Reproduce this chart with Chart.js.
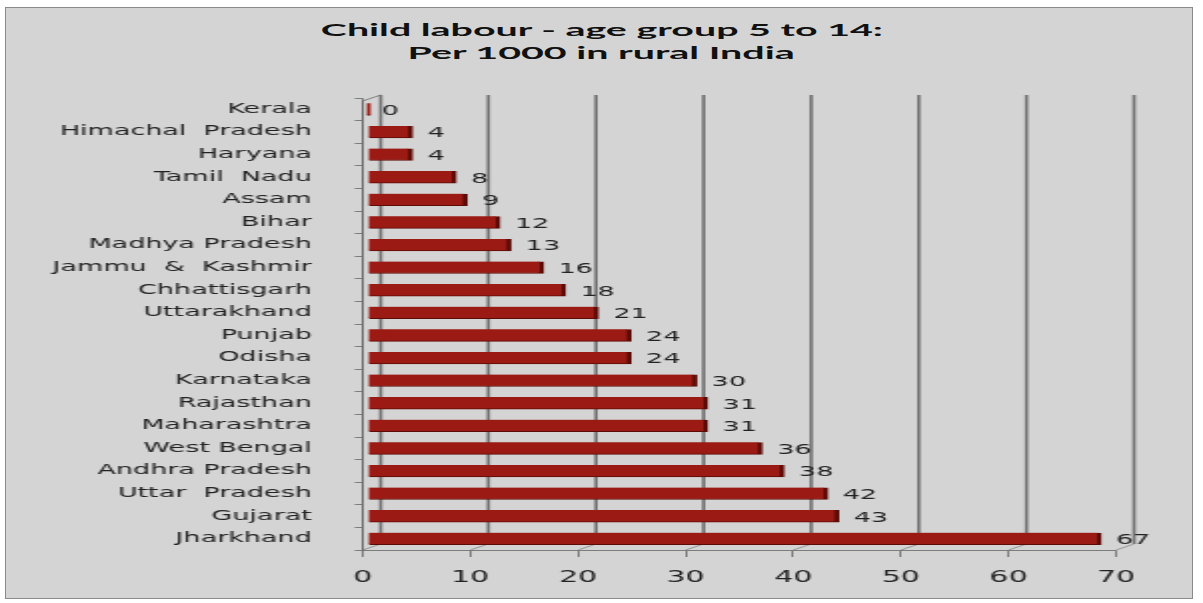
<!DOCTYPE html>
<html>
<head>
<meta charset="utf-8">
<script src="https://cdn.jsdelivr.net/npm/chart.js@4.4.1/dist/chart.umd.min.js"></script>
<style>
  html, body { margin: 0; padding: 0; background: #fff; overflow: hidden; }
  #frame {
    position: absolute; left: 5px; top: 7px; width: 1186px; height: 590px;
    background: #d4d4d4; border: 1px solid #8a8a8a;
  }
  #title {
    position: absolute; left: 0; width: 1203px; top: 18px; text-align: center;
    font-family: Lato, "Liberation Sans", sans-serif; font-weight: bold;
    font-size: 17.5px; line-height: 23px; color: #111;
  }
  #title span { display: inline-block; transform: scaleX(2.25); }
  /* the original picture is stretched sideways, so the canvas is too */
  #wrap {
    position: absolute; left: 0; top: 0; width: 602px; height: 603px;
    transform: scaleX(1.99834); transform-origin: 0 0;
  }
</style>
</head>
<body>
<div id="frame"></div>
<div id="title"><span>Child labour - age group 5 to 14:</span><br><span>Per 1000 in rural India</span></div>
<div id="wrap"><canvas id="labourChart" width="602" height="603"></canvas></div>
<script>
// data
const states = ['Kerala', 'Himachal  Pradesh', 'Haryana', 'Tamil  Nadu', 'Assam', 'Bihar',
  'Madhya Pradesh', 'Jammu  &  Kashmir', 'Chhattisgarh', 'Uttarakhand', 'Punjab', 'Odisha',
  'Karnataka', 'Rajasthan', 'Maharashtra', 'West Bengal', 'Andhra Pradesh', 'Uttar  Pradesh',
  'Gujarat', 'Jharkhand'];
const perThousand = [0, 4, 4, 8, 9, 12, 13, 16, 18, 21, 24, 24, 30, 31, 31, 36, 38, 42, 43, 67];
const xTicks = [0, 10, 20, 30, 40, 50, 60, 70];

const depthX = 9;
const depthY = 6;

// back-wall gridlines, shifted like the 3D original
const backGrid = {
  id: 'backGrid',
  beforeDatasetsDraw(chart) {
    const ctx = chart.ctx;
    const area = chart.chartArea;
    const xs = chart.scales.x;
    ctx.save();
    xTicks.forEach(v => {
      const px = xs.getPixelForValue(v);
      ctx.strokeStyle = '#6f6f6f';
      ctx.lineWidth = 1.6;
      ctx.beginPath();
      ctx.moveTo(px + depthX, area.top - 3);
      ctx.lineTo(px + depthX, area.bottom - depthY);
      ctx.stroke();
      ctx.lineWidth = 0.7;
      ctx.strokeStyle = '#777';
      ctx.beginPath();
      ctx.moveTo(px + depthX, area.bottom - depthY);
      ctx.lineTo(px, area.bottom);
      ctx.stroke();
    });
    // side wall at the left
    const x0 = xs.getPixelForValue(0);
    ctx.strokeStyle = '#666';
    ctx.lineWidth = 0.8;
    ctx.beginPath();
    ctx.moveTo(x0, area.bottom);
    ctx.lineTo(x0, area.top + depthY - 3);
    ctx.lineTo(x0 + depthX, area.top - 3);
    ctx.stroke();
    ctx.restore();
  }
};

// value labels at the bar ends
const valueLabels = {
  id: 'valueLabels',
  afterDatasetsDraw(chart) {
    const ctx = chart.ctx;
    const meta = chart.getDatasetMeta(0);
    ctx.save();
    ctx.font = '13.5px "DejaVu Sans", sans-serif';
    ctx.fillStyle = '#222';
    ctx.textAlign = 'left';
    ctx.textBaseline = 'middle';
    meta.data.forEach((bar, i) => {
      ctx.fillText(String(perThousand[i]), bar.x + 7.5, bar.y + 2);
    });
    ctx.restore();
  }
};

new Chart(document.querySelector('#labourChart'), {
  type: 'bar',
  data: {
    labels: states,
    datasets: [{
      data: perThousand,
      xAxisID: 'xBar',
      backgroundColor: '#9b1b14',
      borderColor: '#5c0b07',
      borderWidth: { top: 0, bottom: 1, left: 0, right: 2.5 },
      barThickness: 12,
      minBarLength: 2
    }]
  },
  options: {
    indexAxis: 'y',
    responsive: false,
    animation: false,
    devicePixelRatio: 1,
    layout: { padding: { top: 98, right: 43.5, bottom: 4, left: 0 } },
    plugins: { legend: { display: false }, tooltip: { enabled: false } },
    scales: {
      // bars sit half way into the 3D depth, so they use a slightly shifted scale
      xBar: {
        type: 'linear', position: 'bottom', display: false,
        min: -0.55, max: 68.37
      },
      x: {
        type: 'linear', position: 'bottom',
        min: 0, max: 70,
        ticks: { stepSize: 10, padding: 12, color: '#222', font: { family: 'DejaVu Sans', size: 15 } },
        grid: { drawOnChartArea: false, tickLength: 7, color: '#666', lineWidth: 0.8 },
        border: { color: '#666', width: 0.8 }
      },
      y: {
        ticks: { padding: 21.5, color: '#222', font: { family: 'DejaVu Sans', size: 13.5 } },
        grid: { drawOnChartArea: false, tickLength: 4, color: '#666', offset: true, lineWidth: 0.8 },
        border: { color: '#666', width: 0.8 },
        afterFit(scale) { scale.width = 181.5; }
      }
    }
  },
  plugins: [backGrid, valueLabels]
});
</script>
</body>
</html>
